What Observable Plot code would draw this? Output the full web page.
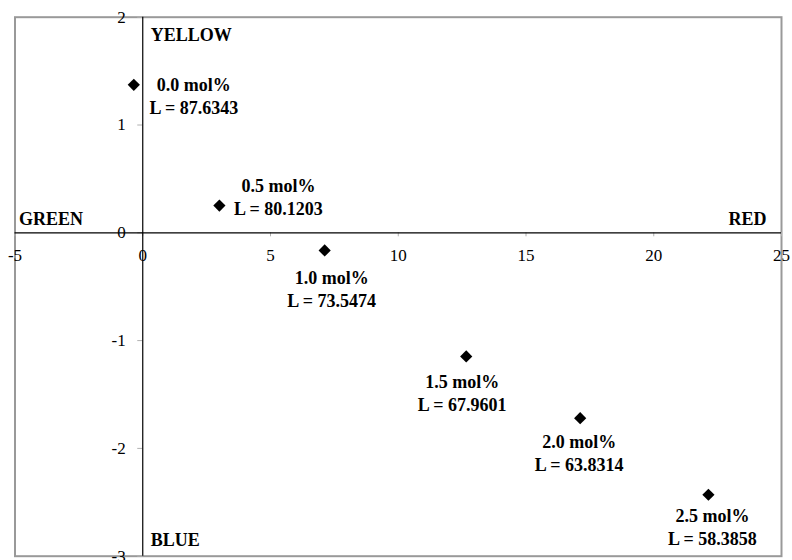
<!DOCTYPE html>
<html>
<head>
<meta charset="utf-8">
<script src="https://cdn.jsdelivr.net/npm/d3@7"></script>
<script src="https://cdn.jsdelivr.net/npm/@observablehq/plot@0.6"></script>
<style>
  html, body { margin: 0; padding: 0; background: #fff; }
</style>
</head>
<body>
<div id="chart"></div>
<script>
// Data
const concentrations = ["0.0 mol%", "0.5 mol%", "1.0 mol%", "1.5 mol%", "2.0 mol%", "2.5 mol%"];
const lightness = ["87.6343", "80.1203", "73.5474", "67.9601", "63.8314", "58.3858"];
const aValues = [-0.35, 3.0, 7.12, 12.66, 17.12, 22.14];   // green–red axis
const bValues = [1.373, 0.253, -0.164, -1.147, -1.72, -2.43]; // blue–yellow axis
const xTicks = [-5, 0, 5, 10, 15, 20, 25];
const yTicks = [-3, -2, -1, 0, 1, 2];

// Label placement offsets (pixels) for each point's annotation
const labelDx = [60, 59, 7, -4, -1, 4];
const labelDy = [0, -19, 28, 26, 24, 21];

const points = concentrations.map((c, i) => ({
  conc: c, L: lightness[i], a: aValues[i], b: bValues[i]
}));

const serif = "'Liberation Serif', 'Times New Roman', Times, serif";
const labelSize = 18;
const lineGap = 23;

const labelMarks = [];
points.forEach((p, i) => {
  labelMarks.push(Plot.text([p], {
    x: "a", y: "b", text: d => d.conc,
    dx: labelDx[i], dy: labelDy[i],
    fontWeight: "bold", fontSize: labelSize, fontFamily: serif, fill: "#000"
  }));
  labelMarks.push(Plot.text([p], {
    x: "a", y: "b", text: d => "L = " + d.L,
    dx: labelDx[i], dy: labelDy[i] + lineGap,
    fontWeight: "bold", fontSize: labelSize, fontFamily: serif, fill: "#000"
  }));
});

const chart = Plot.plot({
  width: 792,
  height: 560,
  marginLeft: 14.5,
  marginRight: 11,
  marginTop: 16.7,
  marginBottom: 4.3,
  x: { domain: [-5, 25], axis: null },
  y: { domain: [-3, 2], axis: null },
  style: { fontFamily: serif, fontSize: "17px", background: "#fff", overflow: "visible" },
  marks: [
    Plot.frame({ stroke: "#999", strokeWidth: 2 }),
    // tick marks
    Plot.ruleX(xTicks, { x: d => d, y1: 0, y2: 0, insetBottom: -4, stroke: "#b0b0b0" }),
    Plot.ruleY(yTicks, { y: d => d, x1: 0, x2: 0, insetLeft: -5, stroke: "#b0b0b0" }),
    // axes through origin
    Plot.ruleY([0], { stroke: "#000", strokeWidth: 1.2 }),
    Plot.ruleX([0], { stroke: "#000", strokeWidth: 1.2 }),
    // tick labels
    Plot.text(xTicks, { x: d => d, y: 0, dy: 23, text: d => String(d), fontSize: 17, fill: "#000" }),
    Plot.text(yTicks, { x: 0, y: d => d, dx: -17, textAnchor: "end", text: d => String(d), fontSize: 17, fill: "#000" }),
    // colour direction labels
    Plot.text(["YELLOW"], { x: 0, y: 2, dx: 8, dy: 18, textAnchor: "start", text: d => d, fontWeight: "bold", fontSize: labelSize, fill: "#000" }),
    Plot.text(["GREEN"], { x: -5, y: 0, dx: 4, dy: -14, textAnchor: "start", text: d => d, fontWeight: "bold", fontSize: labelSize, fill: "#000" }),
    Plot.text(["RED"], { x: 25, y: 0, dx: -15, dy: -14, textAnchor: "end", text: d => d, fontWeight: "bold", fontSize: labelSize, fill: "#000" }),
    Plot.text(["BLUE"], { x: 0, y: -3, dx: 8, dy: -16, textAnchor: "start", text: d => d, fontWeight: "bold", fontSize: labelSize, fill: "#000" }),
    // data points
    Plot.dot(points, { x: "a", y: "b", symbol: "diamond2", r: 5.5, fill: "#000", stroke: "none" }),
    ...labelMarks
  ]
});

document.getElementById("chart").appendChild(chart);
</script>
</body>
</html>
